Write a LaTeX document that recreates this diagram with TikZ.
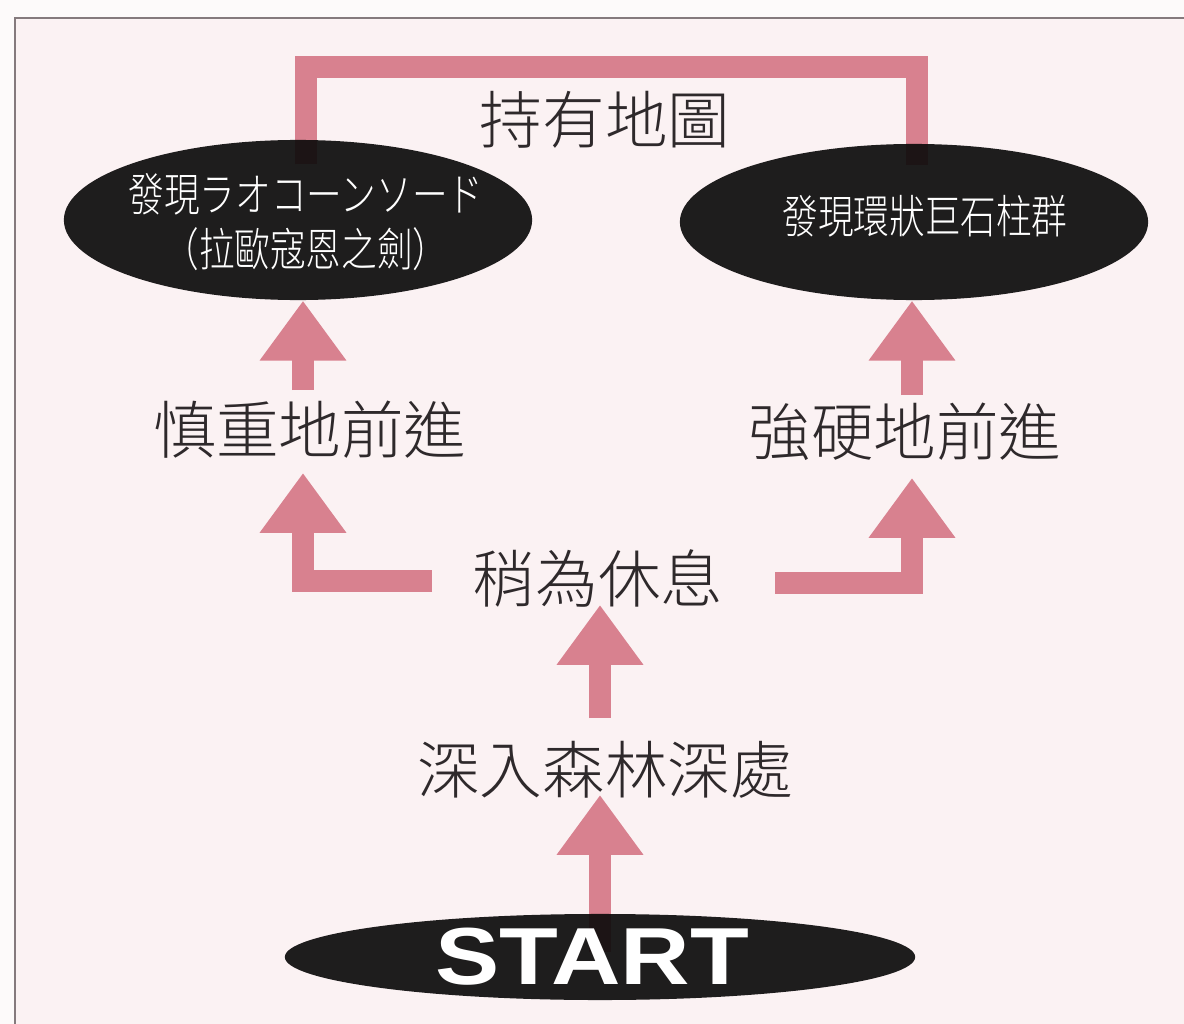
\documentclass[tikz,border=0pt]{standalone}
\usepackage{fontspec}
\setmainfont{Liberation Sans}
\newfontfamily\cjk{Noto Sans CJK TC}[UprightFont={* Light}]
\usetikzlibrary{arrows.meta,calc,shapes.geometric}
\definecolor{bgpink}{HTML}{FBF2F3}
\definecolor{arrowpink}{HTML}{D8818F}
\definecolor{ink}{HTML}{2E292B}
\definecolor{ovalfill}{HTML}{0C0B0B}
\definecolor{framecol}{HTML}{857A7D}
\pgfdeclarelayer{back}
\pgfdeclarelayer{bg}
\pgfsetlayers{back,bg,main}
\begin{document}
\begin{tikzpicture}[x=0.01cm,y=-0.01cm,
  lbl/.style={font=\cjk\fontsize{17.8}{20}\selectfont, text=ink, inner sep=0pt},
  oval/.style={ellipse, fill=ovalfill, fill opacity=0.92, inner sep=0pt},
  ovaltxt/.style={font=\cjk\fontsize{13}{15.6}\selectfont, text=white, align=center, inner sep=0pt},
  starttxt/.style={font=\bfseries\fontsize{23}{26}\selectfont, text=white, inner sep=0pt},
  flow/.style={draw=arrowpink, line width=6.3pt, line join=miter, -{Triangle[width=23.5pt,length=17pt]}},
  maplink/.style={draw=arrowpink, line width=6.5pt, line join=miter},
  ]
\useasboundingbox (0,0) rectangle (1184,1024);
\begin{pgfonlayer}{back}
\fill[white!60!bgpink] (0,0) rectangle (1184,1024);
\fill[bgpink] (15,18) rectangle (1184,1024);
\draw[framecol, line width=0.85pt] (15,1024) -- (15,18) -- (1184,18);
\end{pgfonlayer}

% ovals
\node[oval, minimum width=4.68cm, minimum height=1.6cm] (sword) at (298,220) {};
\node[ovaltxt] (swordtxt) at (306,222) {\scalebox{0.78}[1]{發現ラオコーンソード}\\\scalebox{0.78}[1]{（拉歐寇恩之劍）}};
\node[oval, minimum width=4.68cm, minimum height=1.56cm] (stone) at (914,222) {};
\node[ovaltxt] (stonetxt) at (925,216) {\scalebox{0.78}[1]{發現環狀巨石柱群}};
\node[oval, minimum width=6.3cm, minimum height=0.86cm] (start) at (600,957) {};
\node[starttxt] (starttext) at (592,957) {\scalebox{1.19}[1]{START}};

% labels
\node[lbl] (map) at (605,120) {持有地圖};
\node[lbl] (care) at (310,430) {慎重地前進};
\node[lbl] (force) at (905,432) {強硬地前進};
\node[lbl] (rest) at (598,578) {稍為休息};
\node[lbl] (deep) at (605,770) {深入森林深處};

\begin{pgfonlayer}{bg}
\draw[flow] ($(start)+(0,-5)$) -- ($(deep)+(-5,25)$);
\draw[flow] ($(deep)+(-5,-52)$) -- ($(rest)+(2,27)$);
\draw[flow] ($(rest)+(-166,3)$) -| ($(care)+(-7,43)$);
\draw[flow] ($(care)+(-7,-40)$) -- ($(sword.south)+(5,0)$);
\draw[flow] ($(force)+(7,-37)$) -- ($(stone.south)+(-2,0)$);
\draw[flow] ($(rest)+(177,5)$) -| ($(force)+(7,46)$);
\coordinate (mapR) at ($(map)+(312,-53)$);
\draw[maplink] ($(sword.north)+(8,25)$) |- (mapR) -- ($(stone.north)+(3,22)$);
\end{pgfonlayer}
\end{tikzpicture}
\end{document}
